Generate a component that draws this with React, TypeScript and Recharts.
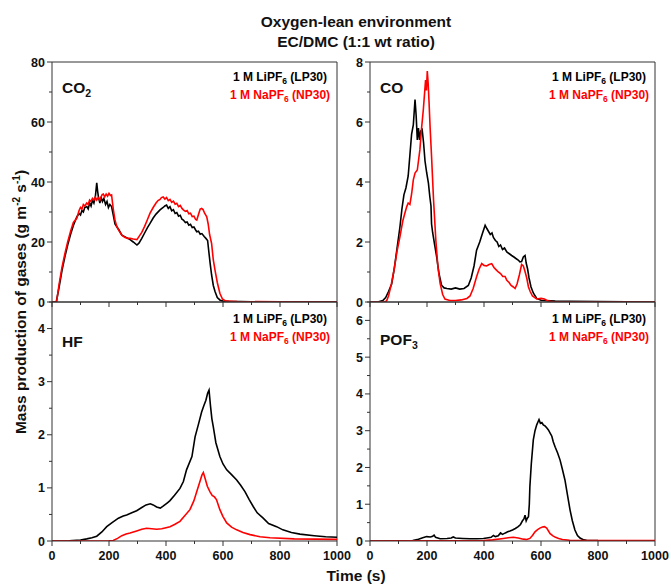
import React from 'react';
import { LineChart, Line, XAxis, YAxis, ReferenceLine } from 'recharts';

// ---- Data: [time (s), mass production (g m^-2 s^-1)] ----
const co2Li: [number, number][] = [
  [0, 0], [15, 0], [25, 5], [35, 10.5], [45, 15], [55, 19], [65, 22.5], [75, 25.5], [87, 28.4], [95, 29.5],
  [100, 29], [105, 30.5], [110, 30], [115, 31.5], [122, 31.8], [127, 31], [132, 33], [137, 32], [142, 34], [147, 33],
  [152, 35], [157, 39.7], [160, 37], [163, 35], [168, 33], [172, 35], [177, 33.5], [182, 34.5], [188, 32.5], [193, 33.5],
  [198, 31.5], [203, 32.5], [209, 31.8], [215, 29], [221, 26], [228, 25], [235, 24], [245, 22.3], [255, 21.8], [265, 21.3],
  [274, 20.8], [285, 20], [298, 19], [305, 19.6], [315, 21.2], [325, 23], [335, 24.8], [344, 26.2], [355, 28], [365, 29.3],
  [379, 30.7], [390, 31.5], [396, 32], [402, 32.3], [408, 31.2], [414, 31.8], [420, 30.4], [426, 30.8], [432, 29.5], [438, 29.8],
  [444, 28.6], [450, 28.9], [456, 27.6], [461, 27.3], [468, 26.5], [474, 26.7], [480, 25.6], [486, 25.9], [492, 24.8], [498, 25],
  [504, 24], [508, 23.4], [514, 23.6], [520, 22.6], [526, 22.8], [534, 21.8], [540, 21.2], [546, 20.5], [550, 17], [555, 12.8],
  [560, 9], [566, 5.5], [572, 3.5], [580, 1.5], [590, 0.6], [600, 0.3], [620, 0.2], [700, 0.1], [800, 0.05], [1000, 0],
];
const co2Na: [number, number][] = [
  [0, 0], [16, 0], [25, 6], [35, 11.5], [45, 16], [55, 20], [65, 23.5], [75, 26.5], [87, 27.9], [95, 30.5],
  [100, 31.5], [105, 31], [110, 32.5], [115, 32], [122, 33], [127, 32.5], [132, 34], [137, 33.5], [142, 34.5], [147, 34],
  [152, 35], [157, 34], [162, 34.8], [168, 34], [172, 35], [176, 35.8], [180, 36], [185, 35], [190, 36], [195, 35.3],
  [200, 36.2], [205, 35.5], [209, 35.7], [215, 31], [221, 27.3], [228, 25], [235, 23.8], [245, 22.3], [255, 21.6], [265, 21.2],
  [274, 21.2], [285, 21], [298, 20.8], [305, 21.8], [315, 23.2], [325, 25.2], [335, 27.5], [344, 29.6], [355, 31.5], [365, 33],
  [372, 33.8], [379, 34.2], [384, 34.8], [390, 35], [396, 34.3], [402, 34.8], [408, 33.8], [414, 34.2], [420, 33.2], [426, 33.6],
  [432, 32.6], [438, 32.9], [444, 31.8], [450, 32.2], [456, 31.2], [461, 30.7], [468, 30.2], [474, 30.5], [480, 29.4], [486, 29.6],
  [492, 28.5], [498, 28.6], [504, 27.5], [508, 27.3], [515, 29.5], [520, 31], [525, 31.2], [530, 30.8], [536, 29.5], [543, 28.4],
  [548, 26], [553, 22.5], [560, 19.5], [566, 14], [572, 10.6], [580, 6.5], [589, 2.9], [598, 1], [610, 0.3], [650, 0.15],
  [800, 0.05], [1000, 0],
];

const coLi: [number, number][] = [
  [0, 0], [30, 0.01], [45, 0.05], [55, 0.15], [65, 0.35], [76, 0.6], [85, 1.1], [95, 1.8], [105, 2.5], [112, 3.1],
  [119, 3.57], [126, 3.8], [134, 4.2], [140, 4.9], [146, 5.6], [152, 5.9], [158, 6.75], [162, 6.2], [166, 5.4], [170, 5.8],
  [174, 5.4], [178, 5.7], [183, 5.75], [188, 5.3], [193, 4.7], [199, 4.3], [205, 3.96], [210, 3.5], [214, 3.2], [216, 2.6],
  [220, 2.3], [227, 1.9], [234, 1.5], [242, 0.95], [251, 0.56], [260, 0.47], [270, 0.45], [285, 0.43], [300, 0.47], [315, 0.43],
  [330, 0.45], [345, 0.55], [355, 0.8], [365, 1.2], [374, 1.73], [385, 2.0], [395, 2.3], [404, 2.56], [410, 2.45], [416, 2.35],
  [422, 2.25], [428, 2.3], [433, 2.15], [440, 2.05], [446, 2.0], [452, 1.85], [458, 1.9], [465, 1.75], [472, 1.8], [480, 1.67],
  [490, 1.6], [497, 1.55], [505, 1.5], [512, 1.45], [520, 1.4], [526, 1.34], [532, 1.35], [538, 1.5], [544, 1.55], [548, 1.3],
  [553, 1.1], [558, 0.8], [565, 0.5], [573, 0.3], [585, 0.12], [600, 0.06], [650, 0.03], [700, 0.02], [1000, 0],
];
const coNa: [number, number][] = [
  [0, 0], [50, 0], [58, 0.03], [65, 0.2], [75, 0.6], [85, 1.1], [95, 1.7], [105, 2.17], [115, 2.7], [122, 2.95],
  [129, 3.18], [134, 3.3], [140, 3.25], [146, 3.6], [152, 4.07], [158, 4.3], [166, 4.4], [170, 4.7], [175, 5.07], [181, 5.8],
  [187, 6.4], [191, 6.9], [195, 7.4], [198, 7.05], [201, 7.7], [204, 7.3], [207, 6.7], [211, 5.8], [216, 4.85], [223, 3.4],
  [231, 2.06], [238, 1.2], [246, 0.62], [255, 0.25], [263, 0.1], [280, 0.05], [300, 0.05], [320, 0.07], [340, 0.12], [351, 0.2],
  [362, 0.45], [374, 0.84], [383, 1.1], [392, 1.28], [400, 1.22], [409, 1.2], [418, 1.25], [427, 1.28], [435, 1.15], [442, 1.08],
  [450, 1.0], [458, 0.95], [466, 0.85], [474, 0.85], [480, 0.72], [488, 0.65], [495, 0.55], [503, 0.5], [509, 0.45], [516, 0.6],
  [524, 0.9], [532, 1.25], [538, 1.2], [543, 1.05], [550, 0.8], [556, 0.5], [562, 0.35], [570, 0.2], [585, 0.1], [600, 0.12],
  [612, 0.1], [625, 0.03], [650, 0], [1000, 0],
];

const hfLi: [number, number][] = [
  [0, 0], [60, 0.005], [100, 0.02], [122, 0.04], [140, 0.06], [157, 0.09], [175, 0.17], [192, 0.27], [212, 0.35], [233, 0.43],
  [250, 0.47], [262, 0.49], [280, 0.53], [297, 0.57], [315, 0.63], [330, 0.68], [345, 0.7], [355, 0.68], [367, 0.64], [380, 0.62],
  [391, 0.66], [405, 0.72], [414, 0.76], [430, 0.86], [449, 0.99], [461, 1.12], [472, 1.34], [491, 1.59], [502, 1.96], [514, 2.2],
  [525, 2.43], [533, 2.55], [540, 2.65], [546, 2.78], [551, 2.84], [556, 2.55], [561, 2.3], [566, 2.15], [575, 1.85], [589, 1.59],
  [600, 1.45], [613, 1.34], [630, 1.25], [648, 1.15], [662, 1.05], [677, 0.93], [692, 0.78], [706, 0.65], [720, 0.53], [741, 0.43],
  [760, 0.33], [788, 0.27], [810, 0.21], [840, 0.16], [870, 0.13], [920, 0.1], [960, 0.08], [1000, 0.07],
];
const hfNa: [number, number][] = [
  [0, 0], [200, 0.003], [215, 0.01], [230, 0.05], [245, 0.1], [260, 0.13], [274, 0.15], [297, 0.19], [315, 0.22], [332, 0.24],
  [350, 0.23], [367, 0.22], [385, 0.23], [400, 0.25], [414, 0.27], [430, 0.31], [449, 0.37], [465, 0.47], [484, 0.59], [498, 0.76],
  [508, 0.93], [518, 1.1], [526, 1.24], [531, 1.29], [537, 1.18], [545, 1.03], [554, 0.93], [562, 0.86], [570, 0.83], [577, 0.78],
  [589, 0.59], [600, 0.46], [613, 0.34], [630, 0.26], [648, 0.21], [670, 0.16], [695, 0.12], [730, 0.08], [765, 0.06], [850, 0.04],
  [1000, 0.03],
];

const pof3Li: [number, number][] = [
  [0, 0], [100, 0.005], [150, 0.01], [170, 0.05], [185, 0.09], [199, 0.12], [212, 0.11], [220, 0.13], [225, 0.16], [230, 0.1],
  [246, 0.06], [270, 0.07], [285, 0.08], [292, 0.11], [300, 0.08], [325, 0.07], [351, 0.06], [375, 0.06], [398, 0.07], [415, 0.09],
  [425, 0.1], [433, 0.15], [440, 0.12], [450, 0.14], [458, 0.22], [465, 0.18], [475, 0.22], [483, 0.25], [491, 0.27], [500, 0.3],
  [510, 0.34], [520, 0.39], [528, 0.45], [535, 0.55], [540, 0.6], [544, 0.7], [548, 0.55], [552, 0.62], [556, 0.66], [559, 1.0],
  [561, 1.48], [566, 2.1], [573, 2.75], [579, 3.0], [585, 3.16], [590, 3.25], [593, 3.3], [598, 3.2], [603, 3.22], [608, 3.16],
  [614, 3.13], [620, 3.08], [626, 3.02], [633, 2.92], [638, 2.85], [643, 2.7], [650, 2.55], [658, 2.4], [667, 2.2], [675, 1.95],
  [684, 1.66], [693, 1.25], [702, 0.84], [710, 0.55], [719, 0.3], [728, 0.15], [737, 0.08], [750, 0.03], [760, 0.02], [800, 0.01],
  [1000, 0],
];
const pof3Na: [number, number][] = [
  [0, 0], [400, 0.01], [430, 0.03], [468, 0.07], [485, 0.09], [503, 0.1], [520, 0.08], [538, 0.05], [550, 0.04], [561, 0.07],
  [570, 0.15], [579, 0.25], [588, 0.31], [596, 0.35], [605, 0.38], [612, 0.39], [620, 0.35], [632, 0.2], [642, 0.14], [651, 0.1],
  [662, 0.07], [675, 0.04], [700, 0.02], [1000, 0.01],
];

// ---- Axis ticks / labels ----
const timeTicks = [0, 100, 200, 300, 400, 500, 600, 700, 800, 900, 1000];
const co2Ticks = [0, 10, 20, 30, 40, 50, 60, 70, 80];
const coTicks = [0, 1, 2, 3, 4, 5, 6, 7, 8];
const hfTicks = [0, 0.5, 1, 1.5, 2, 2.5, 3, 3.5, 4, 4.5];
const pof3Ticks = [0, 0.5, 1, 1.5, 2, 2.5, 3, 3.5, 4, 4.5, 5, 5.5, 6, 6.5];

const seriesNames = ['1 M LiPF', '1 M NaPF'];
const seriesTags = [' (LP30)', ' (NP30)'];
const seriesColors = ['#000000', '#ff0000'];

const FONT = "'Liberation Sans', Arial, Helvetica, sans-serif";
const AXIS = '#333333';
const X_MAX = 1000;

const toPoints = (arr: [number, number][]) => arr.map(([t, v]) => ({ t, v }));

const isMajor = (v: number, step: number) => Math.abs(v / step - Math.round(v / step)) < 1e-6;

const makeXTick = (showLabel: boolean) => (props: any) => {
  const { x, y, payload } = props;
  const val = payload.value;
  const major = isMajor(val, 200);
  return (
    <g>
      <line x1={x} x2={x} y1={y} y2={y + (major ? 5 : 3)} stroke={AXIS} strokeWidth={1} />
      {showLabel && major ? (
        <text x={x} y={y + 18.5} textAnchor="middle" fontFamily={FONT} fontWeight="bold" fontSize={12.5} fill="#111">
          {val}
        </text>
      ) : null}
    </g>
  );
};

const makeYTick = (step: number) => (props: any) => {
  const { x, y, payload } = props;
  const val = payload.value;
  const major = isMajor(val, step);
  return (
    <g>
      <line x1={x} x2={x - (major ? 5 : 3)} y1={y} y2={y} stroke={AXIS} strokeWidth={1} />
      {major ? (
        <text x={x - 7} y={y + 4.5} textAnchor="end" fontFamily={FONT} fontWeight="bold" fontSize={12.5} fill="#111">
          {val}
        </text>
      ) : null}
    </g>
  );
};

type PanelProps = {
  left: number;
  top: number;
  width: number;
  height: number;
  margin: { top: number; right: number; bottom: number; left: number };
  yWidth: number;
  xHeight: number;
  yMax: number;
  yTicks: number[];
  yStep: number;
  showXLabels: boolean;
  li: [number, number][];
  na: [number, number][];
};

const Panel = (p: PanelProps) => (
  <div style={{ position: 'absolute', left: p.left, top: p.top, width: p.width, height: p.height }}>
    <LineChart width={p.width} height={p.height} margin={p.margin} style={{ overflow: 'visible' }}>
      <XAxis
        dataKey="t"
        type="number"
        domain={[0, X_MAX]}
        ticks={timeTicks}
        interval={0}
        allowDataOverflow
        height={p.xHeight}
        tickSize={0}
        tickMargin={0}
        tickLine={false}
        axisLine={{ stroke: AXIS, strokeWidth: 1 }}
        tick={makeXTick(p.showXLabels)}
      />
      <YAxis
        type="number"
        domain={[0, p.yMax]}
        ticks={p.yTicks}
        interval={0}
        allowDataOverflow
        width={p.yWidth}
        tickSize={0}
        tickMargin={0}
        tickLine={false}
        axisLine={{ stroke: AXIS, strokeWidth: 1 }}
        tick={makeYTick(p.yStep)}
      />
      <ReferenceLine y={p.yMax} stroke={AXIS} strokeWidth={1} ifOverflow="extendDomain" />
      <ReferenceLine x={X_MAX} stroke={AXIS} strokeWidth={1} ifOverflow="extendDomain" />
      <Line
        data={toPoints(p.li)}
        dataKey="v"
        type="linear"
        stroke={seriesColors[0]}
        strokeWidth={1.6}
        dot={false}
        activeDot={false}
        isAnimationActive={false}
      />
      <Line
        data={toPoints(p.na)}
        dataKey="v"
        type="linear"
        stroke={seriesColors[1]}
        strokeWidth={1.6}
        dot={false}
        activeDot={false}
        isAnimationActive={false}
      />
    </LineChart>
  </div>
);

const LegendText = ({ cx, y }: { cx: number; y: number }) => (
  <g fontFamily={FONT} fontWeight="bold" fontSize={12}>
    {seriesNames.map((n, i) => (
      <text key={n} x={cx} y={y + i * 18} textAnchor="middle" fill={seriesColors[i]}>
        {n}
        <tspan fontSize={8.5} dy={3}>6</tspan>
        <tspan dy={-3}>{seriesTags[i]}</tspan>
      </text>
    ))}
  </g>
);

const PanelLabel = ({ x, y, main, sub }: { x: number; y: number; main: string; sub?: string }) => (
  <text x={x} y={y} fontFamily={FONT} fontWeight="bold" fontSize={15.5} fill="#111">
    {main}
    {sub ? (
      <tspan fontSize={10.5} dy={4}>
        {sub}
      </tspan>
    ) : null}
  </text>
);

export default function App() {
  return (
    <div style={{ position: 'absolute', left: 0, top: 0, width: 671, height: 585, background: '#fff' }}>
      <Panel
        left={0} top={0} width={360} height={320}
        margin={{ top: 62, right: 23, bottom: 0, left: 0 }}
        yWidth={52} xHeight={18} yMax={80} yTicks={co2Ticks} yStep={20}
        showXLabels={false} li={co2Li} na={co2Na}
      />
      <Panel
        left={330} top={0} width={341} height={320}
        margin={{ top: 62, right: 16, bottom: 0, left: 0 }}
        yWidth={40} xHeight={18} yMax={8} yTicks={coTicks} yStep={2}
        showXLabels={false} li={coLi} na={coNa}
      />
      <Panel
        left={0} top={290} width={360} height={295}
        margin={{ top: 12, right: 23, bottom: 0, left: 0 }}
        yWidth={52} xHeight={44} yMax={4.5} yTicks={hfTicks} yStep={1}
        showXLabels={true} li={hfLi} na={hfNa}
      />
      <Panel
        left={330} top={290} width={341} height={295}
        margin={{ top: 12, right: 16, bottom: 0, left: 0 }}
        yWidth={40} xHeight={44} yMax={6.5} yTicks={pof3Ticks} yStep={1}
        showXLabels={true} li={pof3Li} na={pof3Na}
      />
      <svg
        width={671}
        height={585}
        style={{ position: 'absolute', left: 0, top: 0, pointerEvents: 'none' }}
      >
        <g fontFamily={FONT} fontWeight="bold" fill="#111">
          <text x={356} y={27} textAnchor="middle" fontSize={15.5}>Oxygen-lean environment</text>
          <text x={356} y={47} textAnchor="middle" fontSize={15.5}>EC/DMC (1:1 wt ratio)</text>
          <text x={356} y={581} textAnchor="middle" fontSize={15.5}>Time (s)</text>
          <text
            x={0}
            y={0}
            transform="translate(26 302) rotate(-90)"
            textAnchor="middle"
            fontSize={15.5}
          >
            Mass production of gases (g m
            <tspan fontSize={10} dy={-6}>-2</tspan>
            <tspan dy={6}> s</tspan>
            <tspan fontSize={10} dy={-6}>-1</tspan>
            <tspan dy={6}>)</tspan>
          </text>
        </g>
        <PanelLabel x={62} y={93} main="CO" sub="2" />
        <PanelLabel x={380} y={93} main="CO" />
        <PanelLabel x={62} y={347} main="HF" />
        <PanelLabel x={380} y={345} main="POF" sub="3" />
        <LegendText cx={280} y={81} />
        <LegendText cx={599} y={81} />
        <LegendText cx={280} y={323} />
        <LegendText cx={599} y={323} />
      </svg>
    </div>
  );
}
